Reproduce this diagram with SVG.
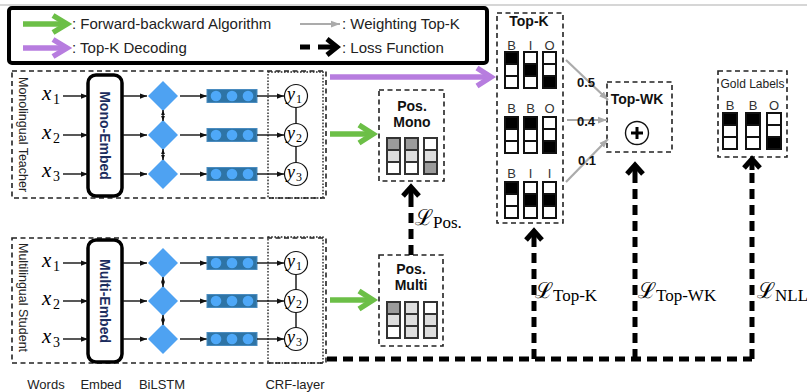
<svg xmlns="http://www.w3.org/2000/svg" width="807" height="392" viewBox="0 0 807 392">
  <defs>
    <style>
      .sans { font-family: "Liberation Sans", Arial, sans-serif; }
      .serif { font-family: "Liberation Serif", "Times New Roman", serif; }
      .math { font-family: "Liberation Serif", "Times New Roman", serif; font-style: italic; }
      .script { font-family: "DejaVu Serif", "Liberation Serif", serif; }
      .dash-box { fill: none; stroke: #222; stroke-width: 1.6; stroke-dasharray: 5 3.5; }
      .dot-box { fill: none; stroke: #222; stroke-width: 1.4; stroke-dasharray: 1.6 1.6; }
      .thin { stroke: #111; stroke-width: 1.4; fill: none; }
      .embed { fill: #fff; stroke: #000; stroke-width: 3.5; }
      .diamond { fill: #4ea2f2; }
      .lstm { fill: #2e74a6; stroke: #4a8cc0; stroke-width: 1; }
      .lstm-dot { fill: #4ea8f8; }
      .crf { fill: #fff; stroke: #111; stroke-width: 1.2; }
      .cell { stroke: #111; stroke-width: 2; }
      .pcell { stroke: #333; stroke-width: 2; }
      .fb { fill: none; stroke: #6cbf47; stroke-width: 5.5; }
      .tk { fill: none; stroke: #b77ddf; stroke-width: 5.5; }
      .wt { fill: none; stroke: #ababab; stroke-width: 2.2; }
      .loss { fill: none; stroke: #000; stroke-width: 5; stroke-dasharray: 10 6; }
      .head { fill: none; stroke: #000; stroke-width: 5; stroke-linejoin: miter; }
      .lbl { font-family: "Liberation Sans", Arial, sans-serif; font-weight: bold; font-size: 14px; fill: #111; text-anchor: middle; }
      .tag { font-family: "Liberation Sans", Arial, sans-serif; font-size: 13px; fill: #333; text-anchor: middle; }
    </style>
    <marker id="ah" viewBox="0 0 8 6" refX="8" refY="3" markerWidth="7" markerHeight="5.5" markerUnits="userSpaceOnUse" orient="auto-start-reverse">
      <path d="M0,0 L8,3 L0,6 z" fill="#111"/>
    </marker>
    <marker id="ahs" viewBox="0 0 8 6" refX="8" refY="3" markerWidth="5" markerHeight="4.5" markerUnits="userSpaceOnUse" orient="auto-start-reverse">
      <path d="M0,0 L8,3 L0,6 z" fill="#111"/>
    </marker>
    <marker id="gh" viewBox="0 0 8 6" refX="8" refY="3" markerWidth="9" markerHeight="8" markerUnits="userSpaceOnUse" orient="auto">
      <path d="M0,0 L8,3 L0,6 z" fill="#ababab"/>
    </marker>
    <!-- one tagger row: blue BiLSTM state with three units -->
    <g id="lstm-state">
      <rect class="lstm" x="0" y="0" width="50" height="13"/>
      <circle class="lstm-dot" cx="9" cy="6.5" r="5.3"/>
      <circle class="lstm-dot" cx="25" cy="6.5" r="5.3"/>
      <circle class="lstm-dot" cx="41" cy="6.5" r="5.3"/>
    </g>
  </defs>

  <rect width="807" height="392" fill="#fff"/>
  <line x1="0" y1="5" x2="807" y2="5" stroke="#c9c9c9" stroke-width="1.5"/>

  <!-- legend -->
  <g id="legend">
    <rect x="9" y="8" width="478" height="55" rx="3" fill="none" stroke="#000" stroke-width="4"/>
    <line class="fb" x1="23" y1="24" x2="67" y2="24"/>
    <polyline class="fb" points="53,15.5 67,24 53,32.5"/>
    <line class="tk" x1="23" y1="48" x2="67" y2="48"/>
    <polyline class="tk" points="53,39.5 67,48 53,56.5"/>
    <line class="wt" x1="300" y1="24" x2="340" y2="24" marker-end="url(#gh)"/>
    <line x1="300" y1="47" x2="310" y2="47" stroke="#000" stroke-width="5"/>
    <line x1="318" y1="47" x2="337" y2="47" stroke="#000" stroke-width="5"/>
    <polyline class="head" points="327,39 337,47 327,55"/>
    <text class="sans" x="72" y="29" font-size="15" fill="#222">: Forward-backward Algorithm</text>
    <text class="sans" x="72" y="53" font-size="15" fill="#222">: Top-K Decoding</text>
    <text class="sans" x="342" y="29" font-size="15" fill="#222">: Weighting Top-K</text>
    <text class="sans" x="342" y="53" font-size="15" fill="#222">: Loss Function</text>
  </g>

  <!-- monolingual teacher tagger -->
  <g id="teacher">
    <rect class="dash-box" x="12" y="71" width="314" height="127"/>
    <text class="sans" font-size="12.5" fill="#222" transform="translate(19,77) rotate(90)">Monolingual Teacher</text>
    <rect class="embed" x="88" y="75" width="34" height="121" rx="8"/>
    <text class="sans" font-size="14" font-weight="bold" fill="#1c2d5e" text-anchor="middle" transform="translate(105,135.5) rotate(90)" y="5">Mono-Embed</text>
    <rect class="dot-box" x="268" y="72" width="55" height="126"/>

    <text class="math" x="42" y="100" font-size="21">x</text><text class="serif" x="53" y="104" font-size="14">1</text>
    <text class="math" x="42" y="139" font-size="21">x</text><text class="serif" x="53" y="143" font-size="14">2</text>
    <text class="math" x="42" y="177" font-size="21">x</text><text class="serif" x="53" y="181" font-size="14">3</text>

    <line class="thin" x1="63" y1="96" x2="88" y2="96" marker-end="url(#ah)"/>
    <line class="thin" x1="63" y1="135" x2="88" y2="135" marker-end="url(#ah)"/>
    <line class="thin" x1="63" y1="174" x2="88" y2="174" marker-end="url(#ah)"/>
    <line class="thin" x1="123" y1="96" x2="147" y2="96" marker-end="url(#ah)"/>
    <line class="thin" x1="123" y1="135" x2="147" y2="135" marker-end="url(#ah)"/>
    <line class="thin" x1="123" y1="174" x2="147" y2="174" marker-end="url(#ah)"/>

    <polygon class="diamond" points="163,81 178,96 163,111 148,96"/>
    <polygon class="diamond" points="163,120 178,135 163,150 148,135"/>
    <polygon class="diamond" points="163,159 178,174 163,189 148,174"/>
    <line class="thin" x1="163" y1="110" x2="163" y2="121" marker-start="url(#ahs)" marker-end="url(#ahs)"/>
    <line class="thin" x1="163" y1="149" x2="163" y2="160" marker-start="url(#ahs)" marker-end="url(#ahs)"/>

    <line class="thin" x1="180" y1="96" x2="207" y2="96" marker-end="url(#ah)"/>
    <line class="thin" x1="180" y1="135" x2="207" y2="135" marker-end="url(#ah)"/>
    <line class="thin" x1="180" y1="174" x2="207" y2="174" marker-end="url(#ah)"/>
    <use href="#lstm-state" x="207" y="89.5"/>
    <use href="#lstm-state" x="207" y="128.5"/>
    <use href="#lstm-state" x="207" y="167.5"/>
    <line class="thin" x1="257" y1="96" x2="284" y2="96" marker-end="url(#ah)"/>
    <line class="thin" x1="257" y1="135" x2="284" y2="135" marker-end="url(#ah)"/>
    <line class="thin" x1="257" y1="174" x2="284" y2="174" marker-end="url(#ah)"/>

    <line class="thin" x1="296" y1="107" x2="296" y2="124"/>
    <line class="thin" x1="296" y1="146" x2="296" y2="163"/>
    <circle class="crf" cx="296" cy="96" r="11.5"/>
    <circle class="crf" cx="296" cy="135" r="11.5"/>
    <circle class="crf" cx="296" cy="174" r="11.5"/>
    <text class="math" x="287" y="100" font-size="18">y</text><text class="serif" x="296" y="103" font-size="12">1</text>
    <text class="math" x="287" y="139" font-size="18">y</text><text class="serif" x="296" y="142" font-size="12">2</text>
    <text class="math" x="287" y="178" font-size="18">y</text><text class="serif" x="296" y="181" font-size="12">3</text>
  </g>

  <!-- multilingual student tagger -->
  <g id="student">
    <rect class="dash-box" x="12" y="238" width="314" height="125"/>
    <text class="sans" font-size="12.5" fill="#222" transform="translate(19,243) rotate(90)">Multilingual Student</text>
    <rect class="embed" x="88" y="240" width="34" height="122" rx="8"/>
    <text class="sans" font-size="14" font-weight="bold" fill="#1c2d5e" text-anchor="middle" transform="translate(105,301) rotate(90)" y="5">Multi-Embed</text>
    <rect class="dot-box" x="268" y="237" width="55" height="126"/>

    <text class="math" x="42" y="267" font-size="21">x</text><text class="serif" x="53" y="271" font-size="14">1</text>
    <text class="math" x="42" y="305" font-size="21">x</text><text class="serif" x="53" y="309" font-size="14">2</text>
    <text class="math" x="42" y="343" font-size="21">x</text><text class="serif" x="53" y="347" font-size="14">3</text>

    <line class="thin" x1="63" y1="263" x2="88" y2="263" marker-end="url(#ah)"/>
    <line class="thin" x1="63" y1="301" x2="88" y2="301" marker-end="url(#ah)"/>
    <line class="thin" x1="63" y1="339" x2="88" y2="339" marker-end="url(#ah)"/>
    <line class="thin" x1="123" y1="263" x2="147" y2="263" marker-end="url(#ah)"/>
    <line class="thin" x1="123" y1="301" x2="147" y2="301" marker-end="url(#ah)"/>
    <line class="thin" x1="123" y1="339" x2="147" y2="339" marker-end="url(#ah)"/>

    <polygon class="diamond" points="163,248 178,263 163,278 148,263"/>
    <polygon class="diamond" points="163,286 178,301 163,316 148,301"/>
    <polygon class="diamond" points="163,324 178,339 163,354 148,339"/>
    <line class="thin" x1="163" y1="277" x2="163" y2="287" marker-start="url(#ahs)" marker-end="url(#ahs)"/>
    <line class="thin" x1="163" y1="315" x2="163" y2="325" marker-start="url(#ahs)" marker-end="url(#ahs)"/>

    <line class="thin" x1="180" y1="263" x2="207" y2="263" marker-end="url(#ah)"/>
    <line class="thin" x1="180" y1="301" x2="207" y2="301" marker-end="url(#ah)"/>
    <line class="thin" x1="180" y1="339" x2="207" y2="339" marker-end="url(#ah)"/>
    <use href="#lstm-state" x="207" y="256.5"/>
    <use href="#lstm-state" x="207" y="294.5"/>
    <use href="#lstm-state" x="207" y="332.5"/>
    <line class="thin" x1="257" y1="263" x2="284" y2="263" marker-end="url(#ah)"/>
    <line class="thin" x1="257" y1="301" x2="284" y2="301" marker-end="url(#ah)"/>
    <line class="thin" x1="257" y1="339" x2="284" y2="339" marker-end="url(#ah)"/>

    <line class="thin" x1="296" y1="274" x2="296" y2="290"/>
    <line class="thin" x1="296" y1="312" x2="296" y2="328"/>
    <circle class="crf" cx="296" cy="263" r="11.5"/>
    <circle class="crf" cx="296" cy="301" r="11.5"/>
    <circle class="crf" cx="296" cy="339" r="11.5"/>
    <text class="math" x="287" y="267" font-size="18">y</text><text class="serif" x="296" y="270" font-size="12">1</text>
    <text class="math" x="287" y="305" font-size="18">y</text><text class="serif" x="296" y="308" font-size="12">2</text>
    <text class="math" x="287" y="343" font-size="18">y</text><text class="serif" x="296" y="346" font-size="12">3</text>
  </g>

  <!-- layer captions -->
  <g id="captions" class="sans" font-size="13" fill="#222" text-anchor="middle">
    <text x="46" y="389">Words</text>
    <text x="101" y="389">Embed</text>
    <text x="162" y="389">BiLSTM</text>
    <text x="295" y="389">CRF-layer</text>
  </g>

  <!-- teacher posteriors -->
  <g id="pos-mono">
    <rect class="dash-box" x="379" y="90" width="65" height="91"/>
    <text class="lbl" x="412" y="111">Pos.</text>
    <text class="lbl" x="412" y="127">Mono</text>
    <rect class="pcell" x="387" y="138" width="13" height="12" fill="#9b9b9b"/>
    <rect class="pcell" x="387" y="150" width="13" height="12" fill="#dedede"/>
    <rect class="pcell" x="387" y="162" width="13" height="12" fill="#fff"/>
    <rect class="pcell" x="405" y="138" width="13" height="12" fill="#9b9b9b"/>
    <rect class="pcell" x="405" y="150" width="13" height="12" fill="#dedede"/>
    <rect class="pcell" x="405" y="162" width="13" height="12" fill="#fff"/>
    <rect class="pcell" x="424" y="138" width="13" height="12" fill="#fff"/>
    <rect class="pcell" x="424" y="150" width="13" height="12" fill="#dedede"/>
    <rect class="pcell" x="424" y="162" width="13" height="12" fill="#9b9b9b"/>
  </g>

  <!-- student posteriors -->
  <g id="pos-multi">
    <rect class="dash-box" x="379" y="255" width="64" height="91"/>
    <text class="lbl" x="411" y="274">Pos.</text>
    <text class="lbl" x="411" y="290">Multi</text>
    <rect class="pcell" x="387" y="302" width="13" height="12" fill="#9b9b9b"/>
    <rect class="pcell" x="387" y="314" width="13" height="12" fill="#dedede"/>
    <rect class="pcell" x="387" y="326" width="13" height="12" fill="#fff"/>
    <rect class="pcell" x="405" y="302" width="13" height="12" fill="#dedede"/>
    <rect class="pcell" x="405" y="314" width="13" height="12" fill="#dedede"/>
    <rect class="pcell" x="405" y="326" width="13" height="12" fill="#dedede"/>
    <rect class="pcell" x="424" y="302" width="13" height="12" fill="#fff"/>
    <rect class="pcell" x="424" y="314" width="13" height="12" fill="#dedede"/>
    <rect class="pcell" x="424" y="326" width="13" height="12" fill="#dedede"/>
  </g>

  <!-- top-k decoded label sequences -->
  <g id="top-k">
    <rect class="dash-box" x="497" y="13" width="66" height="210"/>
    <text class="lbl" x="529" y="26" font-size="13.5">Top-K</text>
    <g class="tag">
      <text x="511.5" y="50">B</text><text x="530.5" y="50">I</text><text x="549.5" y="50">O</text>
      <text x="511.5" y="113">B</text><text x="530.5" y="113">B</text><text x="549.5" y="113">O</text>
      <text x="511.5" y="178">B</text><text x="530.5" y="178">I</text><text x="549.5" y="178">I</text>
    </g>
    <!-- sequence 1 -->
    <rect class="cell" x="505" y="52" width="13" height="12" fill="#000"/>
    <rect class="cell" x="505" y="64" width="13" height="12" fill="#fff"/>
    <rect class="cell" x="505" y="76" width="13" height="12" fill="#fff"/>
    <rect class="cell" x="524" y="52" width="13" height="12" fill="#fff"/>
    <rect class="cell" x="524" y="64" width="13" height="12" fill="#000"/>
    <rect class="cell" x="524" y="76" width="13" height="12" fill="#fff"/>
    <rect class="cell" x="543" y="52" width="13" height="12" fill="#fff"/>
    <rect class="cell" x="543" y="64" width="13" height="12" fill="#fff"/>
    <rect class="cell" x="543" y="76" width="13" height="12" fill="#000"/>
    <!-- sequence 2 -->
    <rect class="cell" x="505" y="117" width="13" height="12" fill="#000"/>
    <rect class="cell" x="505" y="129" width="13" height="12" fill="#fff"/>
    <rect class="cell" x="505" y="141" width="13" height="12" fill="#fff"/>
    <rect class="cell" x="524" y="117" width="13" height="12" fill="#000"/>
    <rect class="cell" x="524" y="129" width="13" height="12" fill="#fff"/>
    <rect class="cell" x="524" y="141" width="13" height="12" fill="#fff"/>
    <rect class="cell" x="543" y="117" width="13" height="12" fill="#fff"/>
    <rect class="cell" x="543" y="129" width="13" height="12" fill="#fff"/>
    <rect class="cell" x="543" y="141" width="13" height="12" fill="#000"/>
    <!-- sequence 3 -->
    <rect class="cell" x="505" y="182" width="13" height="12" fill="#000"/>
    <rect class="cell" x="505" y="194" width="13" height="12" fill="#fff"/>
    <rect class="cell" x="505" y="206" width="13" height="12" fill="#fff"/>
    <rect class="cell" x="524" y="182" width="13" height="12" fill="#fff"/>
    <rect class="cell" x="524" y="194" width="13" height="12" fill="#000"/>
    <rect class="cell" x="524" y="206" width="13" height="12" fill="#fff"/>
    <rect class="cell" x="543" y="182" width="13" height="12" fill="#fff"/>
    <rect class="cell" x="543" y="194" width="13" height="12" fill="#000"/>
    <rect class="cell" x="543" y="206" width="13" height="12" fill="#fff"/>
  </g>

  <!-- weighted combination of the top-k sequences -->
  <g id="top-wk">
    <rect class="dash-box" x="607" y="82" width="65" height="70"/>
    <text class="lbl" x="637" y="104">Top-WK</text>
    <circle cx="637" cy="133" r="11.5" fill="#fff" stroke="#111" stroke-width="1.4"/>
    <line x1="631" y1="133" x2="643" y2="133" stroke="#000" stroke-width="3"/>
    <line x1="637" y1="127" x2="637" y2="139" stroke="#000" stroke-width="3"/>
  </g>

  <!-- gold labels -->
  <g id="gold-labels">
    <rect class="dash-box" x="718" y="71" width="69" height="86"/>
    <text class="sans" x="752.5" y="88" font-size="12" fill="#222" text-anchor="middle">Gold Labels</text>
    <g class="tag" font-size="14">
      <text x="730" y="110">B</text><text x="753" y="110">B</text><text x="774" y="110">O</text>
    </g>
    <rect class="cell" x="723" y="113" width="14" height="12" fill="#000"/>
    <rect class="cell" x="723" y="125" width="14" height="12" fill="#fff"/>
    <rect class="cell" x="723" y="137" width="14" height="12" fill="#fff"/>
    <rect class="cell" x="746" y="113" width="14" height="12" fill="#000"/>
    <rect class="cell" x="746" y="125" width="14" height="12" fill="#fff"/>
    <rect class="cell" x="746" y="137" width="14" height="12" fill="#fff"/>
    <rect class="cell" x="767" y="113" width="14" height="12" fill="#fff"/>
    <rect class="cell" x="767" y="125" width="14" height="12" fill="#fff"/>
    <rect class="cell" x="767" y="137" width="14" height="12" fill="#000"/>
  </g>

  <!-- connectors -->
  <g id="connectors">
    <!-- top-k decoding from the teacher -->
    <line class="tk" x1="330" y1="77" x2="491" y2="77"/>
    <polyline class="tk" points="477,68 491,77 477,86"/>
    <!-- forward-backward posteriors -->
    <line class="fb" x1="330" y1="134" x2="373" y2="134"/>
    <polyline class="fb" points="359,125 373,134 359,143"/>
    <line class="fb" x1="330" y1="300" x2="373" y2="300"/>
    <polyline class="fb" points="359,291 373,300 359,309"/>

    <!-- weighting of the top-k sequences -->
    <line class="wt" x1="566" y1="60" x2="608" y2="100" marker-end="url(#gh)"/>
    <line class="wt" x1="567" y1="120" x2="607" y2="120" marker-end="url(#gh)"/>
    <line class="wt" x1="566" y1="182" x2="608" y2="139" marker-end="url(#gh)"/>
    <g class="sans" font-size="13" font-weight="bold" fill="#111">
      <text x="577" y="87">0.5</text>
      <text x="577" y="126">0.4</text>
      <text x="578" y="165">0.1</text>
    </g>

    <!-- posterior loss -->
    <line class="loss" x1="411" y1="255" x2="411" y2="198"/>
    <line x1="411" y1="198" x2="411" y2="188" stroke="#000" stroke-width="5"/>
    <polyline class="head" points="403,196 411,187 419,196"/>

    <!-- shared loss path from the student -->
    <line class="loss" x1="327" y1="359" x2="752" y2="359"/>
    <line class="loss" x1="534" y1="359" x2="534" y2="243"/>
    <line x1="534" y1="243" x2="534" y2="232" stroke="#000" stroke-width="5"/>
    <polyline class="head" points="526,240 534,231 542,240"/>
    <line class="loss" x1="635" y1="359" x2="635" y2="176"/>
    <line x1="635" y1="176" x2="635" y2="166" stroke="#000" stroke-width="5"/>
    <polyline class="head" points="627,174 635,165 643,174"/>
    <line class="loss" x1="752" y1="359" x2="752" y2="170"/>
    <line x1="752" y1="170" x2="752" y2="160" stroke="#000" stroke-width="5"/>
    <polyline class="head" points="744,168 752,159 760,168"/>

    <!-- loss names -->
    <text x="415" y="225"><tspan class="script" font-size="22">ℒ</tspan><tspan class="serif" font-size="17" dy="3">Pos.</tspan></text>
    <text x="535" y="298"><tspan class="script" font-size="22">ℒ</tspan><tspan class="serif" font-size="17" dy="3">Top-K</tspan></text>
    <text x="638" y="298"><tspan class="script" font-size="22">ℒ</tspan><tspan class="serif" font-size="17" dy="3">Top-WK</tspan></text>
    <text x="757" y="298"><tspan class="script" font-size="22">ℒ</tspan><tspan class="serif" font-size="17" dy="3">NLL</tspan></text>
  </g>
</svg>
